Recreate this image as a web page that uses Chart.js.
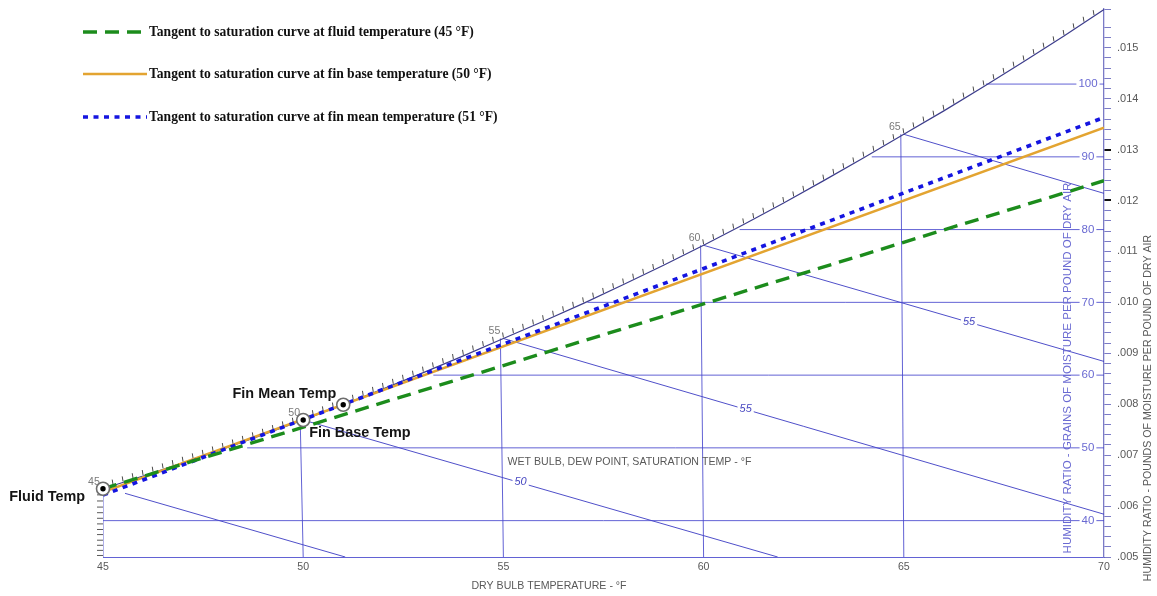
<!DOCTYPE html>
<html>
<head>
<meta charset="utf-8">
<title>Psychrometric chart – tangents to the saturation curve</title>
<script src="https://cdn.jsdelivr.net/npm/chart.js@4.4.1/dist/chart.umd.min.js"></script>
<style>
  html, body { margin: 0; padding: 0; background: #ffffff; }
  canvas { display: block; }
</style>
</head>
<body>
<canvas id="psy" width="1157" height="596"></canvas>
<script>
// ---- Saturation curve: dry bulb (°F) -> humidity ratio (lb moisture / lb dry air)
const satTemps = [45, 46, 47, 48, 49, 50, 51, 52, 53, 54, 55, 56, 57, 58, 59, 60, 61, 62, 63, 64, 65, 66, 67, 68, 69, 70];
const satRatio = [0.00634, 0.00659, 0.00685, 0.00712, 0.00740, 0.00769, 0.00799, 0.00830, 0.00862, 0.00895,
                  0.00929, 0.00963, 0.00998, 0.01035, 0.01073, 0.01112, 0.01153, 0.01195, 0.01239, 0.01284,
                  0.01330, 0.01376, 0.01424, 0.01473, 0.01523, 0.01575];

// Dew points below 45 °F (every 0.5 °F) carried to the 45 °F edge
const dewTickRatio = [0.00622, 0.00610, 0.00598, 0.00587, 0.00576, 0.00565, 0.00554, 0.00544, 0.00533, 0.00523, 0.00513, 0.00503];

// Dry-bulb lines (bottom of chart up to the saturation curve)
const dryBulbTemps = [45, 50, 55, 60, 65];
const dryBulbTopTemps = [45, 49.925, 54.925, 59.925, 64.925];
const dryBulbTopRatio = [0.00634, 0.00769, 0.00929, 0.01112, 0.01330];

// Constant humidity-ratio lines, grains of moisture per pound of dry air
const grainValues = [40, 50, 60, 70, 80, 90, 100];
const grainRatio = [0.005714, 0.007143, 0.008571, 0.010000, 0.011429, 0.012857, 0.014286];
const grainStartTemps = [45, 48.6, 53.25, 57.1, 60.9, 64.2, 67.05];

// Wet-bulb lines
const wetBulbStartT = [45.55, 50, 55, 60, 65];
const wetBulbStartW = [0.00625, 0.00769, 0.00929, 0.01112, 0.01330];
const wetBulbEndT = [51.05, 61.85, 70, 70, 70];
const wetBulbEndW = [0.00500, 0.00500, 0.00584, 0.00884, 0.01214];
const wetBulbLabels = ['50', '55', '55'];
const wetBulbLabelT = [55.43, 61.05, 66.63];
const wetBulbLabelW = [0.006473, 0.007906, 0.009614];

// Dew-point labels on the saturation curve
const dewLabelTemps = [45, 50, 55, 60, 65];
const dewLabelRatio = [0.00634, 0.00769, 0.00929, 0.01112, 0.01330];

// Tangent lines to the saturation curve
const tangentTemps = [45, 70];
const tangentFluid = [0.00634, 0.01239];
const tangentFinBase = [0.006275, 0.01343];
const tangentFinMean = [0.006216, 0.01363];

// State points
const stateNames = ['Fluid Temp', 'Fin Base Temp', 'Fin Mean Temp'];
const stateTemps = [45, 50, 51];
const stateRatio = [0.00634, 0.00769, 0.00799];

// Axis ranges
const dryBulbMin = 45, dryBulbMax = 70, dryBulbStep = 5;
const ratioMin = 0.005, ratioMax = 0.01576, ratioMinorStep = 0.0002;
const boldRatioTicks = [0.012, 0.013];

// ---- styles
const FONT = "'Liberation Sans', Arial, Helvetica, sans-serif";
const SERIF = "'Liberation Serif', 'Times New Roman', serif";
const gridColor = 'rgba(70, 70, 205, 0.85)';
const satColor = '#3d3d8c';
const labelGray = '#595959';

const pts = (xs, ys) => xs.map((x, i) => ({ x, y: ys[i] }));

function seg(points, extra) {
  return Object.assign({
    type: 'line', data: points, borderColor: gridColor, borderWidth: 1,
    pointRadius: 0, fill: false, tension: 0, order: 20
  }, extra || {});
}

const datasets = [];

// state markers (outer ring, then centre dot)
datasets.push({
  type: 'line', label: 'state ring', data: pts(stateTemps, stateRatio), showLine: false,
  pointRadius: 6.5, pointBackgroundColor: '#ffffff', pointBorderColor: '#6d6d6d',
  pointBorderWidth: 1.6, clip: false, order: 1
});
datasets.push({
  type: 'line', label: 'state dot', data: pts(stateTemps, stateRatio), showLine: false,
  pointRadius: 2.7, pointBackgroundColor: '#000000', pointBorderColor: '#000000',
  pointBorderWidth: 0, clip: false, order: 0
});

// tangents
datasets.push({
  type: 'line', label: 'Tangent to saturation curve at fin mean temperature (51 °F)',
  data: pts(tangentTemps, tangentFinMean), borderColor: '#1515e0', borderWidth: 3.6,
  borderDash: [5, 5.5], borderCapStyle: 'butt', pointRadius: 0, order: 3, legendRow: 2
});
datasets.push({
  type: 'line', label: 'Tangent to saturation curve at fin base temperature (50 °F)',
  data: pts(tangentTemps, tangentFinBase), borderColor: '#e3a431', borderWidth: 2.6,
  pointRadius: 0, order: 4, legendRow: 1
});
datasets.push({
  type: 'line', label: 'Tangent to saturation curve at fluid temperature (45 °F)',
  data: pts(tangentTemps, tangentFluid), borderColor: '#1c8c1c', borderWidth: 3.4,
  borderDash: [14, 8], pointRadius: 0, order: 2, legendRow: 0
});

// saturation curve
const satDataset = {
  type: 'line', label: 'saturation', data: pts(satTemps, satRatio), borderColor: satColor,
  borderWidth: 1.2, pointRadius: 0, tension: 0, order: 8
};
datasets.push(satDataset);

// dew-point ticks along the 45 °F edge
datasets.push({
  type: 'line', label: 'dew ticks', data: dewTickRatio.map(w => ({ x: dryBulbMin, y: w })),
  showLine: false, pointStyle: 'dash', rotation: 180, pointRadius: 6,
  pointBorderColor: '#5a5a5a', pointBorderWidth: 1, clip: false, order: 9
});

// dry-bulb lines
dryBulbTemps.forEach((t, i) => datasets.push(seg([{ x: t, y: ratioMin }, { x: dryBulbTopTemps[i], y: dryBulbTopRatio[i] }])));
// humidity-ratio (grains) lines
grainValues.forEach((g, i) => datasets.push(seg([{ x: grainStartTemps[i], y: grainRatio[i] }, { x: dryBulbMax, y: grainRatio[i] }])));
// wet-bulb lines
wetBulbStartT.forEach((t, i) => datasets.push(seg([{ x: t, y: wetBulbStartW[i] }, { x: wetBulbEndT[i], y: wetBulbEndW[i] }],
  { borderColor: 'rgba(60, 60, 195, 0.9)' })));

const satIndex = datasets.indexOf(satDataset);

function ratioLabel(v) {
  const k = Math.round(v * 10000);
  if (Math.abs(v * 10000 - k) < 1e-6 && k % 10 === 0) return '.' + String(k / 10).padStart(3, '0');
  return '';
}
const isBold = v => boldRatioTicks.some(b => Math.abs(b - v) < 1e-9);

function textWithGap(ctx, text, x, y, color, font) {
  ctx.font = font;
  const w = ctx.measureText(text).width;
  ctx.fillStyle = '#ffffff';
  ctx.fillRect(x - w / 2 - 2, y - 6, w + 4, 12);
  ctx.fillStyle = color;
  ctx.textAlign = 'center';
  ctx.textBaseline = 'middle';
  ctx.fillText(text, x, y);
}

const annotations = {
  id: 'psyAnnotations',
  beforeDatasetsDraw(chart) {
    const { ctx } = chart;
    const { x } = chart.scales;
    ctx.save();
    // saturation hatch marks every quarter degree
    const el = chart.getDatasetMeta(satIndex).data;
    ctx.strokeStyle = '#4a4a4a';
    ctx.lineWidth = 1;
    ctx.beginPath();
    for (let q = 1; q < (dryBulbMax - dryBulbMin) * 4; q++) {
      const X = x.getPixelForValue(dryBulbMin + q / 4);
      let i = 0;
      while (i < el.length - 2 && el[i + 1].x < X) i++;
      const a = el[i], b = el[i + 1];
      const Y = a.y + (b.y - a.y) * (X - a.x) / (b.x - a.x);
      ctx.moveTo(X, Y - 1);
      ctx.lineTo(X - 0.8, Y - 6);
    }
    ctx.stroke();
    ctx.restore();
  },
  afterDatasetsDraw(chart) {
    const { ctx } = chart;
    const { x, y } = chart.scales;
    const px = t => x.getPixelForValue(t);
    const py = w => y.getPixelForValue(w);
    ctx.save();

    // grains labels breaking their lines
    grainValues.forEach((g, i) => textWithGap(ctx, String(g), px(69.6), py(grainRatio[i]), '#6a6ad2', `11.5px ${FONT}`));

    // wet-bulb labels
    wetBulbLabels.forEach((s, i) => textWithGap(ctx, s, px(wetBulbLabelT[i]), py(wetBulbLabelW[i]), '#4646c0', `italic 11px ${FONT}`));

    // dew-point labels on the saturation curve
    ctx.font = `10.6px ${FONT}`;
    ctx.fillStyle = '#7a7a7a';
    ctx.textAlign = 'center';
    ctx.textBaseline = 'middle';
    dewLabelTemps.forEach((t, i) => ctx.fillText(String(t), px(t) - 9, py(dewLabelRatio[i]) - 7));

    // state point names
    ctx.font = `bold 14.4px ${FONT}`;
    ctx.fillStyle = '#151515';
    ctx.textBaseline = 'middle';
    const sx = stateTemps.map(px), sy = stateRatio.map(py);
    ctx.textAlign = 'right';
    ctx.fillText(stateNames[0], sx[0] - 18, sy[0] + 8);
    ctx.textAlign = 'left';
    ctx.fillText(stateNames[1], sx[1] + 6, sy[1] + 13);
    ctx.textAlign = 'right';
    ctx.fillText(stateNames[2], sx[2] - 7, sy[2] - 11);

    // scale caption inside the chart
    ctx.font = `10.6px ${FONT}`;
    ctx.fillStyle = labelGray;
    ctx.textAlign = 'center';
    ctx.fillText('WET BULB, DEW POINT, SATURATION TEMP - °F', px(58.15), py(0.006865));
    ctx.restore();
  },
  afterDraw(chart) {
    const { ctx, chartArea } = chart;
    ctx.save();

    // axis titles
    ctx.font = `10.6px ${FONT}`;
    ctx.fillStyle = labelGray;
    ctx.textAlign = 'center';
    ctx.textBaseline = 'middle';
    ctx.fillText('DRY BULB TEMPERATURE - °F', 549, 586);

    ctx.save();
    ctx.translate(1148, 408);
    ctx.rotate(-Math.PI / 2);
    ctx.fillText('HUMIDITY RATIO - POUNDS OF MOISTURE PER POUND OF DRY AIR', 0, 0);
    ctx.restore();

    ctx.save();
    ctx.translate(chartArea.right - 36, 368);
    ctx.rotate(-Math.PI / 2);
    ctx.font = `11.5px ${FONT}`;
    ctx.fillStyle = '#6a6ad2';
    ctx.fillText('HUMIDITY RATIO - GRAINS OF MOISTURE PER POUND OF DRY AIR', 0, 0);
    ctx.restore();

    // legend
    const rows = [32, 74, 117];
    chart.data.datasets.filter(d => d.legendRow !== undefined).forEach(d => {
      const yy = rows[d.legendRow];
      ctx.save();
      ctx.strokeStyle = d.borderColor;
      ctx.lineWidth = d.borderWidth;
      ctx.setLineDash(d.borderDash || []);
      ctx.beginPath();
      ctx.moveTo(83, yy);
      ctx.lineTo(147, yy);
      ctx.stroke();
      ctx.restore();
      ctx.font = `bold 13.6px ${SERIF}`;
      ctx.fillStyle = '#111111';
      ctx.textAlign = 'left';
      ctx.textBaseline = 'middle';
      ctx.fillText(d.label, 149, yy);
    });
    ctx.restore();
  }
};

new Chart(document.getElementById('psy'), {
  type: 'line',
  data: { datasets },
  options: {
    responsive: false,
    devicePixelRatio: 1,
    animation: false,
    events: [],
    layout: { padding: { left: 103, top: 9, right: 0, bottom: 0 } },
    plugins: { legend: { display: false }, tooltip: { enabled: false } },
    scales: {
      x: {
        type: 'linear', position: 'bottom', min: dryBulbMin, max: dryBulbMax,
        ticks: { stepSize: dryBulbStep, color: labelGray, font: { family: FONT, size: 10.6 }, padding: 4, autoSkip: false, maxRotation: 0 },
        grid: { display: false, drawTicks: false },
        border: { display: true, color: gridColor, width: 1 },
        afterFit(s) { s.height = 39; s.paddingLeft = 0; s.paddingRight = 0; }
      },
      y: {
        type: 'linear', position: 'right', min: ratioMin, max: ratioMax,
        ticks: {
          stepSize: ratioMinorStep, autoSkip: false, padding: 6, color: labelGray,
          font: { family: FONT, size: 11 }, callback: v => ratioLabel(v)
        },
        grid: {
          drawOnChartArea: false, drawTicks: true, tickLength: 7,
          color: c => (c.tick && isBold(c.tick.value)) ? '#111111' : '#7b7bc6',
          lineWidth: c => (c.tick && isBold(c.tick.value)) ? 2 : 1
        },
        border: { display: true, color: '#7b7bc6', width: 1.3 },
        afterFit(s) { s.width = 53; s.paddingTop = 0; s.paddingBottom = 0; }
      }
    }
  },
  plugins: [annotations]
});
</script>
</body>
</html>
